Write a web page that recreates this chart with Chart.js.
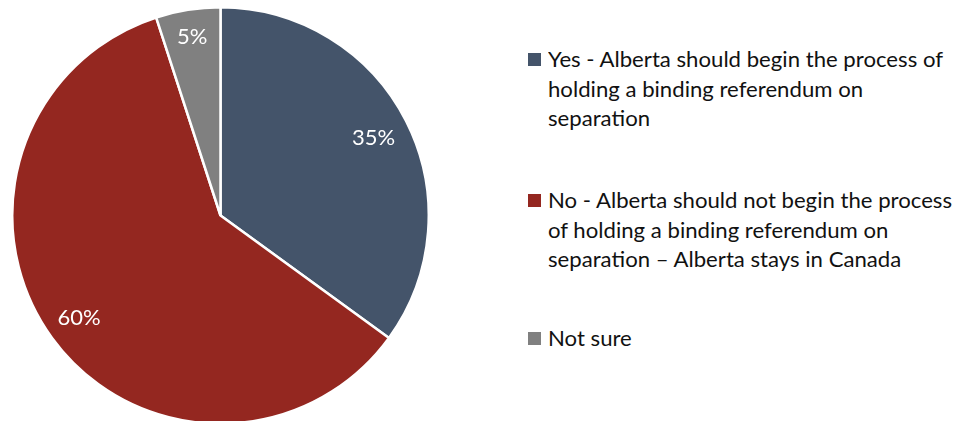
<!DOCTYPE html>
<html>
<head>
<meta charset="utf-8">
<script src="https://cdn.jsdelivr.net/npm/chart.js@4/dist/chart.umd.min.js"></script>
<style>
  html, body { margin: 0; padding: 0; background: #fff; }
  body { width: 958px; height: 421px; overflow: hidden; position: relative; font-family: Lato, "Open Sans", sans-serif; }
  #pieWrap { position: absolute; left: 11px; top: 6px; width: 419px; height: 419px; }
  #legend { position: absolute; left: 528px; top: 0; width: 430px; height: 421px; }
  .item { position: absolute; left: 0; }
  .swatch { position: absolute; left: 0; width: 13px; height: 13px; }
  .lines { position: absolute; left: 20px; top: 0; font-size: 22px; line-height: 29.5px; color: #111; white-space: nowrap; transform-origin: 0 0; }
</style>
</head>
<body>
<div id="pieWrap"><canvas id="pie"></canvas></div>
<div id="legend"></div>
<script>
// Survey answers, one entry per slice (each label split into its legend lines)
const categories = [
  ["Yes - Alberta should begin the process of", "holding a binding referendum on", "separation"],
  ["No - Alberta should not begin the process", "of holding a binding referendum  on", "separation \u2013 Alberta stays in Canada"],
  ["Not sure"]
];
const shares = [35, 60, 5];
const sliceColors = ["#44546A", "#942720", "#808080"];

// Where each percentage label sits, as a fraction of the radius
const labelRadius = [0.825, 0.84, 0.87];
// Legend block tops (px)
const legendTops = [44, 185, 323];

const sliceLabels = {
  id: 'sliceLabels',
  afterDatasetsDraw(chart) {
    const ctx = chart.ctx;
    const meta = chart.getDatasetMeta(0);
    ctx.save();
    ctx.fillStyle = '#ffffff';
    ctx.font = '22px Lato, "Open Sans", sans-serif';
    ctx.textAlign = 'center';
    ctx.textBaseline = 'middle';
    meta.data.forEach((arc, i) => {
      const p = arc.getProps(['x', 'y', 'startAngle', 'endAngle', 'outerRadius'], true);
      const mid = (p.startAngle + p.endAngle) / 2;
      const r = p.outerRadius * labelRadius[i];
      ctx.fillText(chart.data.datasets[0].data[i] + '%', p.x + Math.cos(mid) * r, p.y + Math.sin(mid) * r);
    });
    ctx.restore();
  }
};

new Chart(document.getElementById('pie'), {
  type: 'pie',
  data: {
    labels: categories,
    datasets: [{
      data: shares,
      backgroundColor: sliceColors,
      borderColor: '#ffffff',
      borderWidth: 2.5
    }]
  },
  options: {
    responsive: true,
    maintainAspectRatio: false,
    animation: false,
    layout: { padding: 0 },
    plugins: { legend: { display: false }, tooltip: { enabled: false } }
  },
  plugins: [sliceLabels]
});

// Legend built from the same categories and colours
const legend = document.getElementById('legend');
categories.forEach((lines, i) => {
  const item = document.createElement('div');
  item.className = 'item';
  item.style.top = legendTops[i] + 'px';
  const sw = document.createElement('div');
  sw.className = 'swatch';
  sw.style.background = sliceColors[i];
  sw.style.top = '9px';
  const txt = document.createElement('div');
  txt.className = 'lines';
  lines.forEach((l) => {
    const s = document.createElement('div');
    s.textContent = l;
    txt.appendChild(s);
  });
  item.appendChild(sw);
  item.appendChild(txt);
  legend.appendChild(item);
});
// Narrow the text so the first legend line spans 395px
const first = legend.querySelector('.lines div');
const w = first.getBoundingClientRect().width;
const k = 395 / w;
legend.querySelectorAll('.lines').forEach(el => { el.style.transform = 'scaleX(' + k + ')'; });
</script>
</body>
</html>
